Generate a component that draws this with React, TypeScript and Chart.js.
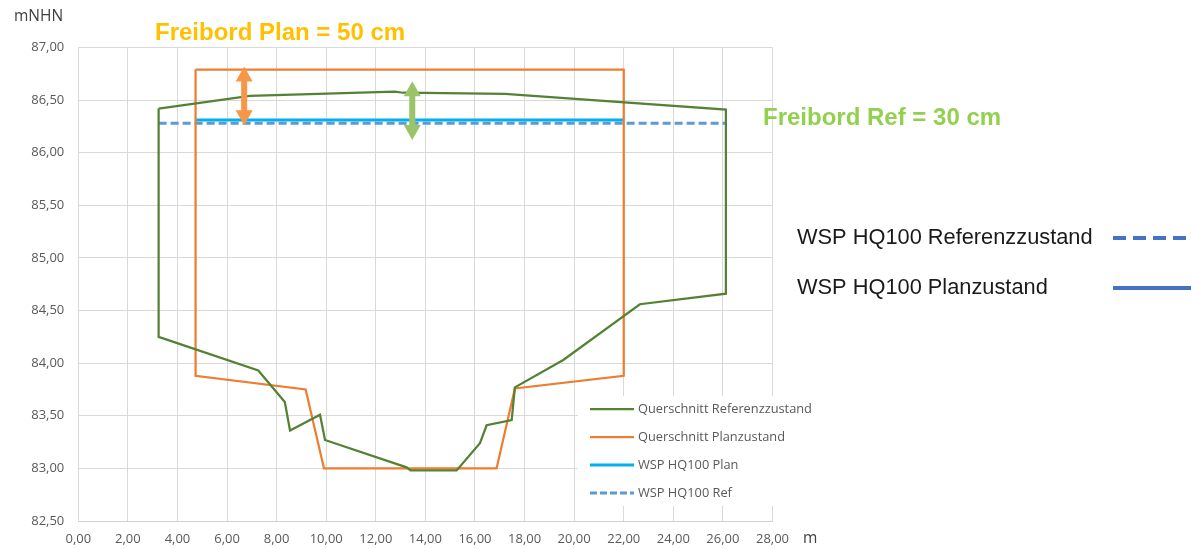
import React, { useEffect, useRef } from "react";
import { Chart, registerables } from "chart.js";

Chart.register(...registerables);

// ---- Data ----
const seriesNames = [
  "Querschnitt Referenzzustand",
  "Querschnitt Planzustand",
  "WSP HQ100 Plan",
  "WSP HQ100 Ref",
];

const refX = [3.24, 6.92, 12.77, 13.09, 17.21, 26.12, 26.12, 22.65, 19.56, 17.61, 17.48, 16.47, 16.2, 15.26, 13.4, 13.24, 9.95, 9.75, 8.54, 8.33, 7.26, 3.24, 3.24];
const refY = [86.42, 86.54, 86.58, 86.57, 86.56, 86.41, 84.66, 84.56, 84.03, 83.77, 83.46, 83.41, 83.24, 82.98, 82.98, 83.01, 83.27, 83.51, 83.36, 83.63, 83.93, 84.25, 86.42];

const planX = [4.73, 4.73, 9.17, 9.91, 16.87, 17.61, 22.0, 22.0, 4.73];
const planY = [86.79, 83.88, 83.75, 83.0, 83.0, 83.76, 83.88, 86.79, 86.79];

const wspPlanX = [4.73, 22.0];
const wspPlanY = [86.31, 86.31];

const wspRefX = [3.24, 26.12];
const wspRefY = [86.28, 86.28];

const xTicks = [0, 2, 4, 6, 8, 10, 12, 14, 16, 18, 20, 22, 24, 26, 28];
const yTicks = [82.5, 83, 83.5, 84, 84.5, 85, 85.5, 86, 86.5, 87];

// double arrows: [x, lower y, upper y]
const arrowPlan = [6.69, 86.26, 86.82];
const arrowRef = [13.47, 86.12, 86.68];

const annotationTexts = ["Freibord Plan = 50 cm", "Freibord Ref = 30 cm"];
const sideLegendNames = ["WSP HQ100 Referenzzustand", "WSP HQ100 Planzustand"];

const COLORS = {
  ref: "#548235",
  plan: "#ED7D31",
  wspPlan: "#00B0F0",
  wspRef: "#5B9BD5",
  arrowPlan: "#F79646",
  arrowRef: "#9BC46A",
  textPlan: "#FFC000",
  textRef: "#92D050",
  side: "#4472C4",
};

const fmt = (v: number) => v.toFixed(2).replace(".", ",");

function toPts(xs: number[], ys: number[]) {
  return xs.map((x, i) => ({ x, y: ys[i] }));
}

function drawDoubleArrow(ctx: CanvasRenderingContext2D, x: number, yTop: number, yBot: number, color: string) {
  const hh = 15, hw = 8.5, sw = 3;
  ctx.save();
  ctx.fillStyle = color;
  ctx.beginPath();
  ctx.moveTo(x, yTop);
  ctx.lineTo(x + hw, yTop + hh);
  ctx.lineTo(x + sw, yTop + hh);
  ctx.lineTo(x + sw, yBot - hh);
  ctx.lineTo(x + hw, yBot - hh);
  ctx.lineTo(x, yBot);
  ctx.lineTo(x - hw, yBot - hh);
  ctx.lineTo(x - sw, yBot - hh);
  ctx.lineTo(x - sw, yTop + hh);
  ctx.lineTo(x - hw, yTop + hh);
  ctx.closePath();
  ctx.fill();
  ctx.restore();
}

const overlayPlugin = {
  id: "overlay",
  afterDatasetsDraw(chart: any) {
    const ctx: CanvasRenderingContext2D = chart.ctx;
    const xs = chart.scales.x;
    const ys = chart.scales.y;
    drawDoubleArrow(ctx, xs.getPixelForValue(arrowPlan[0]), ys.getPixelForValue(arrowPlan[2]), ys.getPixelForValue(arrowPlan[1]), COLORS.arrowPlan);
    drawDoubleArrow(ctx, xs.getPixelForValue(arrowRef[0]), ys.getPixelForValue(arrowRef[2]), ys.getPixelForValue(arrowRef[1]), COLORS.arrowRef);
  },
  afterDraw(chart: any) {
    const ctx: CanvasRenderingContext2D = chart.ctx;
    ctx.save();
    // inner legend
    ctx.fillStyle = "#FFFFFF";
    ctx.fillRect(578, 396, 245, 110);
    const styles = [
      { c: COLORS.ref, w: 2.25, d: [] as number[] },
      { c: COLORS.plan, w: 2.25, d: [] as number[] },
      { c: COLORS.wspPlan, w: 3, d: [] as number[] },
      { c: COLORS.wspRef, w: 3, d: [7, 3] },
    ];
    seriesNames.forEach((name, i) => {
      const y = 409 + i * 28;
      ctx.strokeStyle = styles[i].c;
      ctx.lineWidth = styles[i].w;
      ctx.setLineDash(styles[i].d);
      ctx.beginPath();
      ctx.moveTo(590, y);
      ctx.lineTo(634, y);
      ctx.stroke();
      ctx.setLineDash([]);
      ctx.fillStyle = "#595959";
      ctx.font = "12.8px 'Open Sans'";
      ctx.textAlign = "left";
      ctx.textBaseline = "middle";
      ctx.fillText(name, 638, y);
    });

    // axis titles
    ctx.fillStyle = "#404040";
    ctx.font = "15.5px 'Open Sans'";
    ctx.textBaseline = "middle";
    ctx.textAlign = "left";
    ctx.fillText("mNHN", 14, 17);
    ctx.fillText("m", 803, 539);

    // annotations
    ctx.font = "bold 24px 'Liberation Sans'";
    ctx.fillStyle = COLORS.textPlan;
    ctx.fillText(annotationTexts[0], 155, 33);
    ctx.fillStyle = COLORS.textRef;
    ctx.fillText(annotationTexts[1], 763, 118);

    // side legend
    ctx.font = "21.8px 'Liberation Sans'";
    ctx.fillStyle = "#1A1A1A";
    ctx.fillText(sideLegendNames[0], 797, 238);
    ctx.fillText(sideLegendNames[1], 797, 288);
    ctx.strokeStyle = COLORS.side;
    ctx.lineWidth = 4;
    ctx.setLineDash([13, 7]);
    ctx.beginPath();
    ctx.moveTo(1113, 238);
    ctx.lineTo(1191, 238);
    ctx.stroke();
    ctx.setLineDash([]);
    ctx.beginPath();
    ctx.moveTo(1113, 288);
    ctx.lineTo(1191, 288);
    ctx.stroke();
    ctx.restore();
  },
};

export default function App() {
  const canvasRef = useRef<HTMLCanvasElement | null>(null);

  useEffect(() => {
    if (!canvasRef.current) return;
    const chart = new Chart(canvasRef.current, {
      type: "scatter",
      data: {
        datasets: [
          {
            label: seriesNames[0],
            data: toPts(refX, refY),
            showLine: true,
            borderColor: COLORS.ref,
            borderWidth: 2.25,
            pointRadius: 0,
            fill: false,
            tension: 0,
          },
          {
            label: seriesNames[1],
            data: toPts(planX, planY),
            showLine: true,
            borderColor: COLORS.plan,
            borderWidth: 2.25,
            pointRadius: 0,
            fill: false,
            tension: 0,
          },
          {
            label: seriesNames[2],
            data: toPts(wspPlanX, wspPlanY),
            showLine: true,
            borderColor: COLORS.wspPlan,
            borderWidth: 3,
            pointRadius: 0,
            fill: false,
          },
          {
            label: seriesNames[3],
            data: toPts(wspRefX, wspRefY),
            showLine: true,
            borderColor: COLORS.wspRef,
            borderWidth: 3,
            borderDash: [8, 4],
            pointRadius: 0,
            fill: false,
          },
        ],
      },
      options: {
        responsive: false,
        animation: false,
        devicePixelRatio: 1,
        layout: { padding: { top: 47.5, right: 418.5, bottom: 0, left: 0 } },
        plugins: {
          legend: { display: false },
          tooltip: { enabled: false },
          title: { display: false },
        },
        scales: {
          x: {
            type: "linear",
            min: 0,
            max: 28,
            afterBuildTicks: (scale: any) => {
              scale.ticks = xTicks.map((v) => ({ value: v }));
            },
            afterFit: (scale: any) => {
              scale.height = 28;
            },
            grid: { color: "#D9D9D9", lineWidth: 1, drawTicks: false },
            border: { color: "#D0D0D0", width: 1 },
            ticks: {
              color: "#595959",
              font: { family: "'Open Sans'", size: 13 },
              padding: 10,
              maxRotation: 0,
              autoSkip: false,
              callback: (v: any) => fmt(Number(v)),
            },
          },
          y: {
            type: "linear",
            min: 82.5,
            max: 87,
            afterBuildTicks: (scale: any) => {
              scale.ticks = yTicks.map((v) => ({ value: v }));
            },
            afterFit: (scale: any) => {
              scale.width = 78.3;
            },
            grid: { color: "#D9D9D9", lineWidth: 1, drawTicks: false },
            border: { color: "#D9D9D9", width: 1 },
            ticks: {
              color: "#595959",
              font: { family: "'Open Sans'", size: 13 },
              padding: 14,
              autoSkip: false,
              callback: (v: any) => fmt(Number(v)),
            },
          },
        },
      },
      plugins: [overlayPlugin],
    } as any);
    return () => chart.destroy();
  }, []);

  return (
    <div style={{ position: "absolute", left: 0, top: 0, width: 1191, height: 549, background: "#FFFFFF" }}>
      <canvas ref={canvasRef} width={1191} height={549} style={{ width: 1191, height: 549, display: "block" }} />
    </div>
  );
}
